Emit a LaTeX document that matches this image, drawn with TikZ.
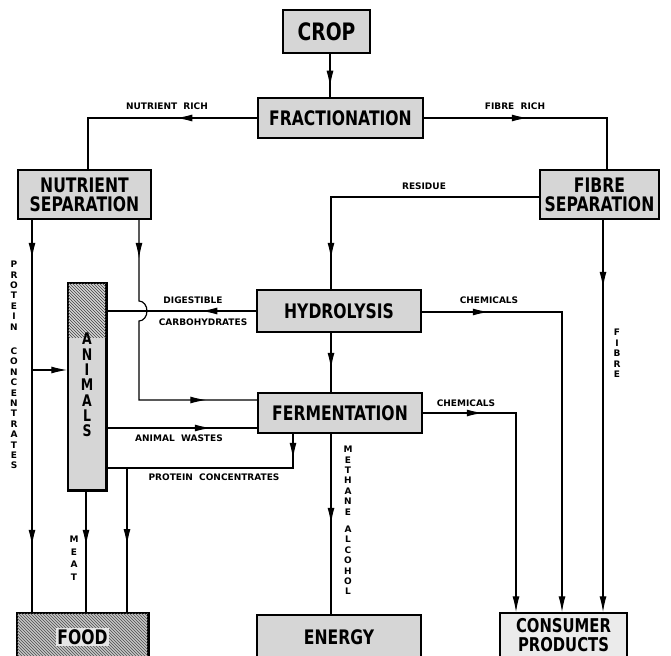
\documentclass[tikz,border=0pt]{standalone}
\usepackage{fontspec}
\setmainfont{DejaVu Sans}
\newfontfamily\boxfont{DejaVu Sans}[FakeStretch=0.78]
\newfontfamily\lblfam{DejaVu Sans}
\usetikzlibrary{arrows.meta,decorations.markings,patterns,calc}
\tikzset{
  box/.style={draw, line width=1.5pt, fill=black!16, inner sep=0pt, align=center,
              font=\boxfont\bfseries\fontsize{20}{22}\selectfont},
  conn/.style={line width=1.2pt},
  lbl/.style={font=\lblfam\bfseries\fontsize{9}{10}\selectfont, inner sep=0pt},
  vlbl/.style={font=\lblfam\bfseries\fontsize{9}{10.4}\selectfont, inner sep=0pt, align=center, anchor=north},
  endtip/.style={-{Latex[length=16pt,width=7pt]}},
  arrowat/.style={postaction=decorate, decoration={markings,
      mark=at position #1 with {\arrow{Latex[length=16pt,width=7pt]}}}},
  arrowsat/.style 2 args={postaction=decorate, decoration={markings,
      mark=at position #1 with {\arrow{Latex[length=16pt,width=7pt]}},
      mark=at position #2 with {\arrow{Latex[length=16pt,width=7pt]}}}},
}
\begin{document}
\begin{tikzpicture}[x=1pt,y=-1pt]
\useasboundingbox (0,0) rectangle (671,655);

% boxes
\node[box, minimum width=87, minimum height=43, font=\boxfont\bfseries\fontsize{24}{26}\selectfont] (crop) at (326.5,31.5) {CROP};
\node[box, minimum width=165, minimum height=40] (fract) at (340.5,118) {FRACTIONATION};
\node[box, minimum width=133, minimum height=49] (nsep) at (84.5,194.5) {NUTRIENT\\[-3pt]SEPARATION};
\node[box, minimum width=119, minimum height=49] (fsep) at (599.5,194.5) {FIBRE\\[-3pt]SEPARATION};
\node[box, minimum width=164, minimum height=42] (hydro) at (339,311) {HYDROLYSIS};
\node[box, minimum width=164, minimum height=40] (ferm) at (340,413) {FERMENTATION};
\node[box, minimum width=38, minimum height=207] (animals) at (87,386.5) {};
\fill[pattern=north west lines, pattern color=black!75] (animals.north west) rectangle ($(animals.north east)+(0,55)$);
\draw[line width=1.5pt] (animals.north west) rectangle (animals.south east);
\node[font=\boxfont\bfseries\fontsize{16}{15.3}\selectfont, align=center, inner sep=0pt, anchor=north] (animtxt) at (87,333) {A\\N\\I\\M\\A\\L\\S};
\node[box, minimum width=131, minimum height=48, fill=black!22] (food) at (82.5,637) {};
\fill[pattern=north west lines, pattern color=black!70] (food.north west) rectangle (food.south east);
\draw[line width=1.5pt] (food.south west) |- (food.north east) -- (food.south east);
\node[font=\boxfont\bfseries\fontsize{20}{22}\selectfont, fill=black!10, inner sep=1pt] (foodtxt) at (food.center) {FOOD};
\node[box, minimum width=164, minimum height=44] (energy) at (339,637) {ENERGY};
\node[box, minimum width=127, minimum height=44, fill=black!8, font=\boxfont\bfseries\fontsize{19}{18.5}\selectfont] (consumer) at (563.5,635) {CONSUMER\\PRODUCTS};

% named points
\coordinate (lcol) at ([xshift=-52.5pt]nsep.south);
\coordinate (rcol) at ([xshift=54.5pt]nsep.south);
\coordinate (anin) at ([yshift=16.5pt]animals.west);
\coordinate (fin) at ([yshift=13pt]ferm.west);
\coordinate (aw) at ([yshift=-15pt]ferm.west);
\coordinate (pcx) at ([xshift=-47pt]ferm.south);
\coordinate (pcy) at ([yshift=-81.5pt]animals.east);
\coordinate (fc) at ([xshift=44.5pt]food.north);

% connectors
\draw[conn, arrowat=33pt] ([xshift=3.5pt]crop.south) -- ([xshift=3.5pt]crop.south |- fract.north);
\draw[conn, arrowat=81pt] (fract.west) -| ([xshift=3.5pt]nsep.north);
\draw[conn, arrowat=104pt] (fract.east) -| ([xshift=7.5pt]fsep.north);
\draw[conn, arrowat=270pt] ([yshift=-2.5pt]fsep.west) -| ([xshift=-8pt]hydro.north);
\draw[conn, arrowsat={39pt}{326pt}] (lcol) -- (lcol |- food.north);
\draw[conn, endtip] (lcol |- anin) -- (anin);
\draw[conn, arrowsat={39pt}{-51pt}] (rcol) -- ($(rcol |- hydro.west)+(0,-10)$)
   arc[start angle=-90, end angle=90, x radius=8, y radius=10] -- (rcol |- fin) -- (fin);
\draw[conn, arrowat=55pt] (hydro.west) -- (hydro.west -| animals.east);
\draw[conn, arrowat=104pt] (aw -| animals.east) -- (aw);
\draw[conn, arrowat=25pt] (pcx) -- (pcx |- pcy) -- (pcy);
\draw[conn, arrowat=77pt] (fc |- pcy) -- (fc);
\draw[conn, arrowat=55pt] ([xshift=-1pt]animals.south) -- ([xshift=-1pt]animals.south |- food.north);
\draw[conn, arrowat=36pt] ([xshift=-8pt]hydro.south) -- ([xshift=-8pt]hydro.south |- ferm.north);
\draw[conn, arrowat=90pt] ([xshift=-9pt]ferm.south) -- ([xshift=-9pt]ferm.south |- energy.north);
\draw[conn, endtip, arrowat=67pt] ([yshift=-1pt]hydro.east) -| ([xshift=-1.5pt]consumer.north);
\draw[conn, endtip, arrowat=60pt] (ferm.east) -| ([xshift=-47.5pt]consumer.north);
\draw[conn, endtip, arrowat=68pt] ([xshift=3.5pt]fsep.south) -- ([xshift=3.5pt]fsep.south |- consumer.north);

% labels
\node[lbl] (l1) at (167,106) {NUTRIENT\ \ RICH};
\node[lbl] (l2) at (515,106) {FIBRE\ \ RICH};
\node[lbl] (l3) at (424,186) {RESIDUE};
\node[lbl] (l4) at (193,300) {DIGESTIBLE};
\node[lbl] (l5) at (203,322) {CARBOHYDRATES};
\node[lbl] (l6) at (489,300) {CHEMICALS};
\node[lbl] (l7) at (466,403) {CHEMICALS};
\node[lbl] (l8) at (179,438) {ANIMAL\ \ WASTES};
\node[lbl] (l9) at (214,477) {PROTEIN\ \ CONCENTRATES};
\node[vlbl] (v1) at (14,261) {P\\R\\O\\T\\E\\I\\N\\[14pt]C\\O\\N\\C\\E\\N\\T\\R\\A\\T\\E\\S};
\node[vlbl, font=\lblfam\bfseries\fontsize{9}{12.5}\selectfont] (v2) at (74,536) {M\\E\\A\\T};
\node[vlbl] (v3) at (348,446) {M\\E\\T\\H\\A\\N\\E\\[7pt]A\\L\\C\\O\\H\\O\\L};
\node[vlbl, font=\lblfam\bfseries\fontsize{9}{10.5}\selectfont] (v4) at (617,329) {F\\I\\B\\R\\E};
\end{tikzpicture}
\end{document}
